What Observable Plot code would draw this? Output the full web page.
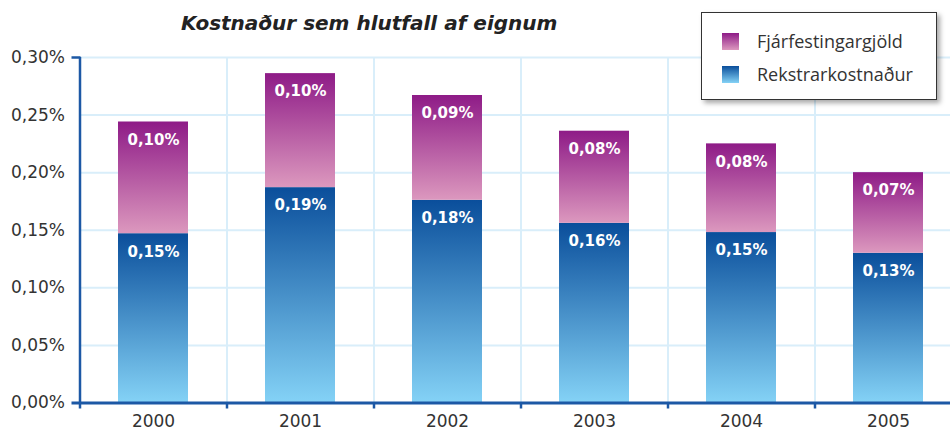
<!DOCTYPE html>
<html>
<head>
<meta charset="utf-8">
<script src="https://cdn.jsdelivr.net/npm/d3@7"></script>
<script src="https://cdn.jsdelivr.net/npm/@observablehq/plot@0.6"></script>
<style>
  body { margin: 0; background: #fff; }
  #wrap { position: relative; width: 950px; height: 430px; overflow: hidden; background: #fff; }
  #title { position: absolute; left: 181px; top: 13px; font: italic bold 20px/20px "DejaVu Sans", sans-serif; color: #222; white-space: nowrap; }
  #legend { position: absolute; left: 701px; top: 12px; width: 236px; height: 88px; box-sizing: border-box; border: 1px solid #333; background: #fff; box-shadow: 3px 3px 5px rgba(0,0,0,0.35); }
  .sw { position: absolute; left: 20px; width: 17px; height: 17px; }
  .lt { position: absolute; left: 55px; font: 18px/18px "Open Sans", sans-serif; color: #333; white-space: nowrap; }
</style>
</head>
<body>
<svg width="0" height="0" style="position:absolute">
  <defs>
    <linearGradient id="gBlue" x1="0" y1="0" x2="0" y2="1">
      <stop offset="0" stop-color="#0a4e9b"/>
      <stop offset="1" stop-color="#84d2f6"/>
    </linearGradient>
    <linearGradient id="gPurple" x1="0" y1="0" x2="0" y2="1">
      <stop offset="0" stop-color="#8e1b87"/>
      <stop offset="1" stop-color="#dc98be"/>
    </linearGradient>
  </defs>
</svg>
<div id="wrap">
  <div id="chart"></div>
  <div id="title"></div>
  <div id="legend"></div>
</div>
<script>
const titleText = "Kostnaður sem hlutfall af eignum";
const years = ["2000", "2001", "2002", "2003", "2004", "2005"];
const seriesNames = ["Rekstrarkostnaður", "Fjárfestingargjöld"];
const rekstrarkostnadur = [0.147, 0.187, 0.176, 0.156, 0.148, 0.130];
const fjarfestingargjold = [0.097, 0.099, 0.091, 0.080, 0.077, 0.070];
const yTicks = [0, 0.05, 0.10, 0.15, 0.20, 0.25, 0.30];
const legendOrder = ["Fjárfestingargjöld", "Rekstrarkostnaður"];

const fills = {"Rekstrarkostnaður": "url(#gBlue)", "Fjárfestingargjöld": "url(#gPurple)"};
const swatchCss = {"Rekstrarkostnaður": "linear-gradient(#0a4e9b, #84d2f6)", "Fjárfestingargjöld": "linear-gradient(#8e1b87, #dc98be)"};

const data = years.flatMap((y, i) => [
  {year: y, series: seriesNames[0], value: rekstrarkostnadur[i]},
  {year: y, series: seriesNames[1], value: fjarfestingargjold[i]}
]);

const loc = d3.formatLocale({decimal: ",", thousands: ".", grouping: [3], currency: ["", ""]});
const fmt2 = loc.format(".2f");
const pct = d => fmt2(d) + "%";

const W = 950, H = 430;
const xRange = [79.5, 961.5];
const step = (xRange[1] - xRange[0]) / years.length;
const axisBlue = "#1c58a5";
const gridColor = "#d9eefa";

const chart = Plot.plot({
  width: W, height: H,
  marginLeft: 79.5, marginRight: 0, marginTop: 57, marginBottom: 27.5,
  style: {fontFamily: "'DejaVu Sans', sans-serif", color: "#333", background: "transparent"},
  x: {domain: years, range: xRange, paddingInner: 0.524, paddingOuter: 0.262, label: null},
  y: {domain: [0, 0.30], label: null},
  color: {type: "identity"},
  marks: [
    Plot.gridY(yTicks.slice(1), {stroke: gridColor, strokeOpacity: 1, strokeWidth: 2}),
    Plot.ruleX(years.slice(1), {x: d => d, dx: -step / 2, y1: 0, y2: 0.30, stroke: gridColor, strokeWidth: 2}),
    Plot.barY(data, Plot.stackY({x: "year", y: "value", z: "series", fill: d => fills[d.series]})),
    Plot.text(data, Plot.stackY2({
      x: "year", y: "value", z: "series",
      text: d => pct(d.value),
      fill: "white", fontWeight: "bold", fontSize: 15, dy: 18
    })),
    Plot.ruleY([0], {stroke: axisBlue, strokeWidth: 3, insetLeft: -8}),
    Plot.ruleX([years[0]], {x: d => d, dx: -step / 2, y1: 0, y2: 0.30, stroke: axisBlue, strokeWidth: 2.5}),
    Plot.ruleY([0.30], {stroke: axisBlue, strokeWidth: 2.5, insetLeft: -8, insetRight: W - 79.5 - 1}),
    Plot.ruleX(years, {x: d => d, dx: -step / 2, y1: 0, y2: 0, insetBottom: -6, stroke: axisBlue, strokeWidth: 2.5}),
    Plot.axisX({tickSize: 0, tickPadding: 11.5, fontSize: 17, label: null}),
    Plot.axisY({ticks: yTicks, tickSize: 0, tickPadding: 15, fontSize: 17, tickFormat: pct, label: null})
  ]
});
document.getElementById("chart").appendChild(chart);

document.getElementById("title").textContent = titleText;

const legend = document.getElementById("legend");
legendOrder.forEach((name, i) => {
  const sw = document.createElement("div");
  sw.className = "sw";
  sw.style.top = (20 + i * 33) + "px";
  sw.style.background = swatchCss[name];
  legend.appendChild(sw);
  const t = document.createElement("div");
  t.className = "lt";
  t.style.top = (20 + i * 33 - 1) + "px";
  t.textContent = name;
  legend.appendChild(t);
});
</script>
</body>
</html>
